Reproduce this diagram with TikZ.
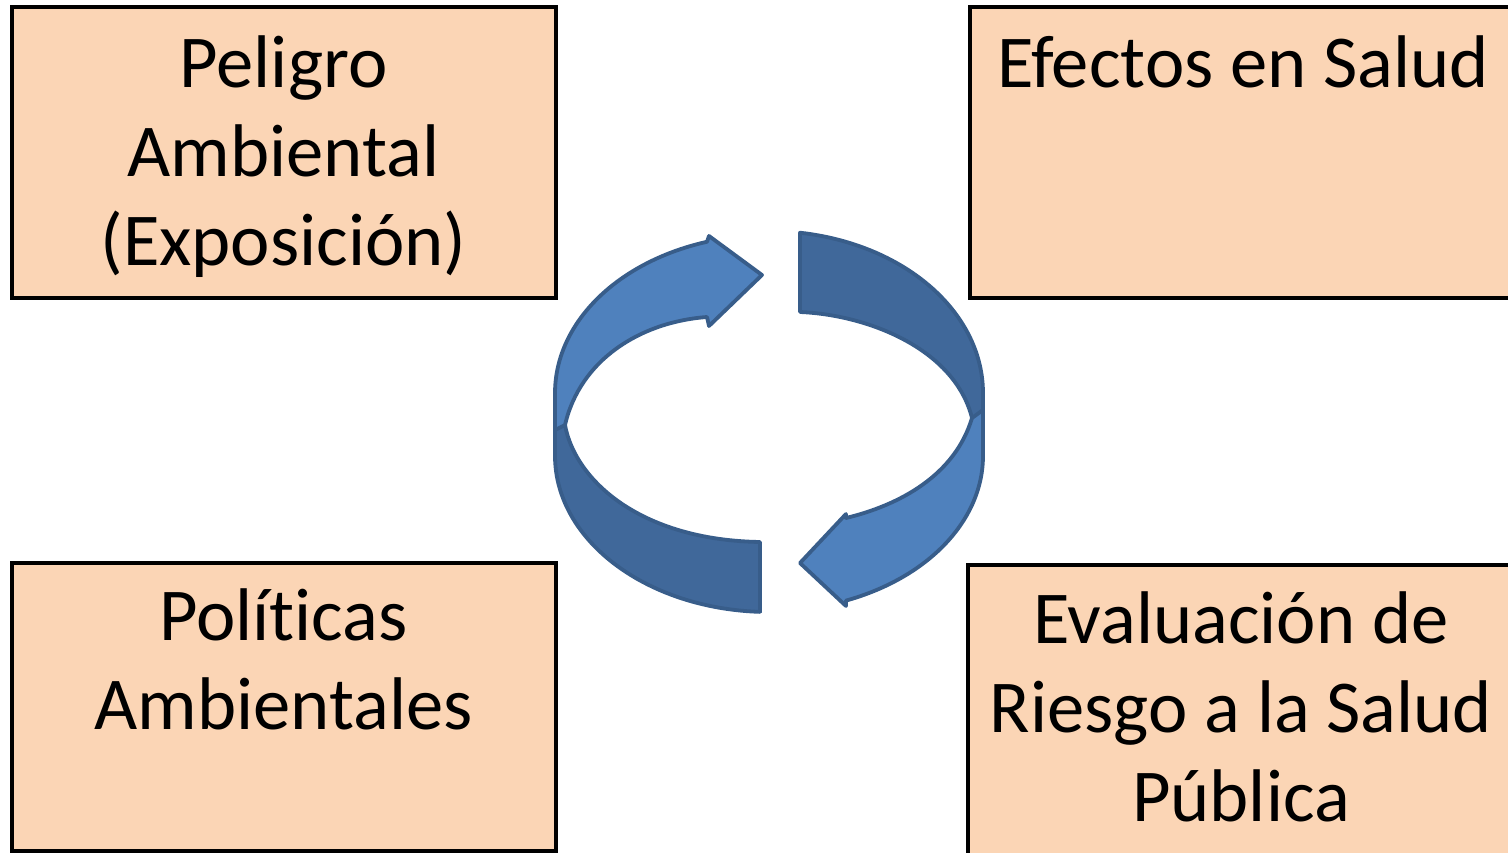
\documentclass[tikz,border=0pt]{standalone}
\usepackage{fontspec}
\setmainfont{Carlito}[Ligatures=NoCommon]
\definecolor{peach}{HTML}{FBD5B5}
\definecolor{lblue}{HTML}{4F81BD}
\definecolor{dblue}{HTML}{40689A}
\definecolor{sblue}{HTML}{385D8A}
\tikzset{
  box/.style={draw=black, line width=4pt, fill=peach, rectangle, inner sep=0pt, outer sep=0pt, anchor=north west},
  lbl/.style={anchor=base, inner sep=0pt, outer sep=0pt, font=\fontsize{74.6}{89}\selectfont},
  lightpart/.style={fill=lblue, draw=sblue, line width=3.8pt, line join=round},
  darkpart/.style={fill=dblue, draw=sblue, line width=3.8pt, line join=round},
}
\begin{document}
\begin{tikzpicture}[x=1pt,y=-1pt]
\clip (0,0) rectangle (1508,853);
\fill[white] (0,0) rectangle (1508,853);

% boxes
\node[box, minimum width=544pt, minimum height=290pt] (peligro) at (11.5,7.5) {};
\node[box, minimum width=546pt, minimum height=290pt] (efectos) at (970,7.5) {};
\node[box, minimum width=544pt, minimum height=287.5pt] (politicas) at (11.5,563) {};
\node[box, minimum width=546pt, minimum height=300pt] (evaluacion) at (968,565) {};

% texts
\node[lbl] (tpeligro) at ([yshift=-80.5pt]peligro.north)
  {\begin{tabular}[t]{@{}c@{}}Peligro\\Ambiental\\(Exposición)\end{tabular}};
\node[lbl] (tefectos) at ([yshift=-80.5pt]efectos.north)
  {\begin{tabular}[t]{@{}c@{}}Efectos en Salud\end{tabular}};
\node[lbl] (tpoliticas) at ([yshift=-77pt]politicas.north)
  {\begin{tabular}[t]{@{}c@{}}Políticas\\Ambientales\end{tabular}};
\node[lbl] (tevaluacion) at ([yshift=-78pt]evaluacion.north)
  {\begin{tabular}[t]{@{}c@{}}Evaluación de\\Riesgo a la Salud\\Pública\end{tabular}};

% left arrow: dark lower part
\path[darkpart] (565,425) .. controls (575,480) and (640,540) .. (760,542)
  -- (760,612)
  -- plot[domain=92.4:180, samples=50, variable=\t] ({769+214*cos(\t)},{456+156*sin(\t)})
  -- (555,418) -- cycle;
% left arrow: light upper part with head
\path[lightpart] (555,430) -- (555,393)
  -- plot[domain=180:253.16, samples=50, variable=\t] ({769+214*cos(\t)},{393+158*sin(\t)})
  -- (709,236) -- (762,275) -- (709,326) -- (707,317)
  .. controls (640,322) and (580,360) .. (565,425) -- cycle;

% right arrow: dark upper part
\path[darkpart] (800,312)
  -- plot[domain=278.33:360, samples=50, variable=\t] ({769+214*cos(\t)},{393+162*sin(\t)})
  -- (983,432) -- (972,418)
  .. controls (955,350) and (870,315) .. (800,312) -- cycle;
% right arrow: light lower part with head
\path[lightpart] (983,410) -- (983,456)
  -- plot[domain=0:68.9, samples=50, variable=\t] ({769+214*cos(\t)},{456+155*sin(\t)})
  -- (846,606) -- (800,563) -- (846,514) -- (846,518)
  .. controls (900,505) and (955,475) .. (972,418) -- cycle;
\end{tikzpicture}
\end{document}
